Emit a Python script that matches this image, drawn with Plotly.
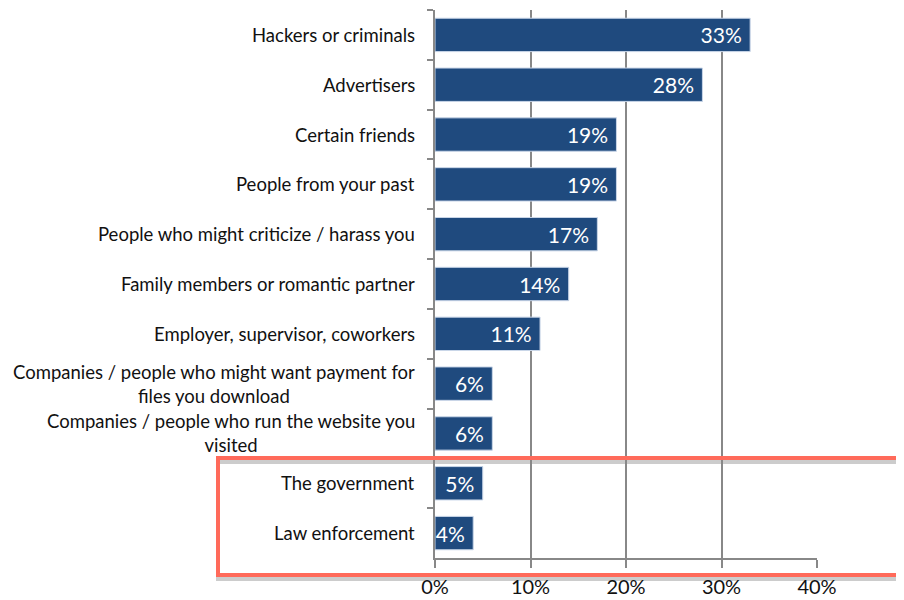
import plotly.graph_objects as go

categories = [
    "Hackers or criminals",
    "Advertisers",
    "Certain friends",
    "People from your past",
    "People who might criticize / harass you",
    "Family members or romantic partner",
    "Employer, supervisor, coworkers",
    "Companies / people who might want payment for<br>files you download",
    "Companies / people who run the website you<br>visited",
    "The government",
    "Law enforcement",
]
values = [33, 28, 19, 19, 17, 14, 11, 6, 6, 5, 4]
labels = [f"{v}%\u00a0" for v in values]
x_ticks = [0, 10, 20, 30, 40]
x_ticklabels = ["0%", "10%", "20%", "30%", "40%"]

FONT = "Lato, 'Open Sans', sans-serif"

fig = go.Figure()
fig.add_trace(go.Bar(
    x=values,
    y=categories,
    orientation="h",
    text=labels,
    textposition="inside",
    insidetextanchor="end",
    textfont=dict(color="white", size=21, family=FONT),
    marker=dict(color="#1F4A7E", line=dict(color="#C9D6E8", width=1)),
    width=0.67,
    hoverinfo="skip",
))

# category labels as centred annotations
for c in categories:
    fig.add_annotation(
        x=0, xref="paper", y=c, yref="y",
        text=c, showarrow=False, xanchor="right", yanchor="middle",
        xshift=-18, align="center",
        font=dict(size=18.5, family=FONT, color="#111111"),
    )

# highlight box with shadow (positions relative to plot area in pixels)
W, H = 382.0, 548.0
def px(xp):
    return (xp - 435) / W
def py(yp):
    return (558 - yp) / H

fig.add_shape(type="rect", xref="paper", yref="paper",
              x0=px(218), x1=px(1000), y0=py(579), y1=py(462),
              line=dict(color="#CCCCCC", width=4), layer="below")
fig.add_shape(type="rect", xref="paper", yref="paper",
              x0=px(218), x1=px(1000), y0=py(575), y1=py(458),
              line=dict(color="#FF6A5A", width=4), layer="above")

fig.update_layout(
    width=904, height=600,
    margin=dict(l=427, r=95, t=2, b=50, autoexpand=False),
    paper_bgcolor="white", plot_bgcolor="white",
    showlegend=False,
    uniformtext=dict(minsize=21, mode="show"),
    font=dict(family=FONT),
)
fig.update_xaxes(
    range=[0, 40], tickvals=x_ticks, ticktext=x_ticklabels,
    showgrid=True, gridcolor="#888888", gridwidth=1.5,
    showline=True, linecolor="#888888", linewidth=1.5,
    ticks="outside", ticklen=8, tickcolor="#888888", tickwidth=1.5,
    tickfont=dict(size=20, color="#111111", family=FONT),
    ticklabelstandoff=2, automargin=False,
    zeroline=False, fixedrange=True,
)
fig.update_yaxes(
    autorange="reversed", showticklabels=False, automargin=False,
    showline=True, linecolor="#888888", linewidth=1.5,
    ticks="outside", tickson="boundaries", ticklen=6, tickcolor="#888888", tickwidth=1.5,
    showgrid=False, fixedrange=True,
)

fig.write_html("out.html")
